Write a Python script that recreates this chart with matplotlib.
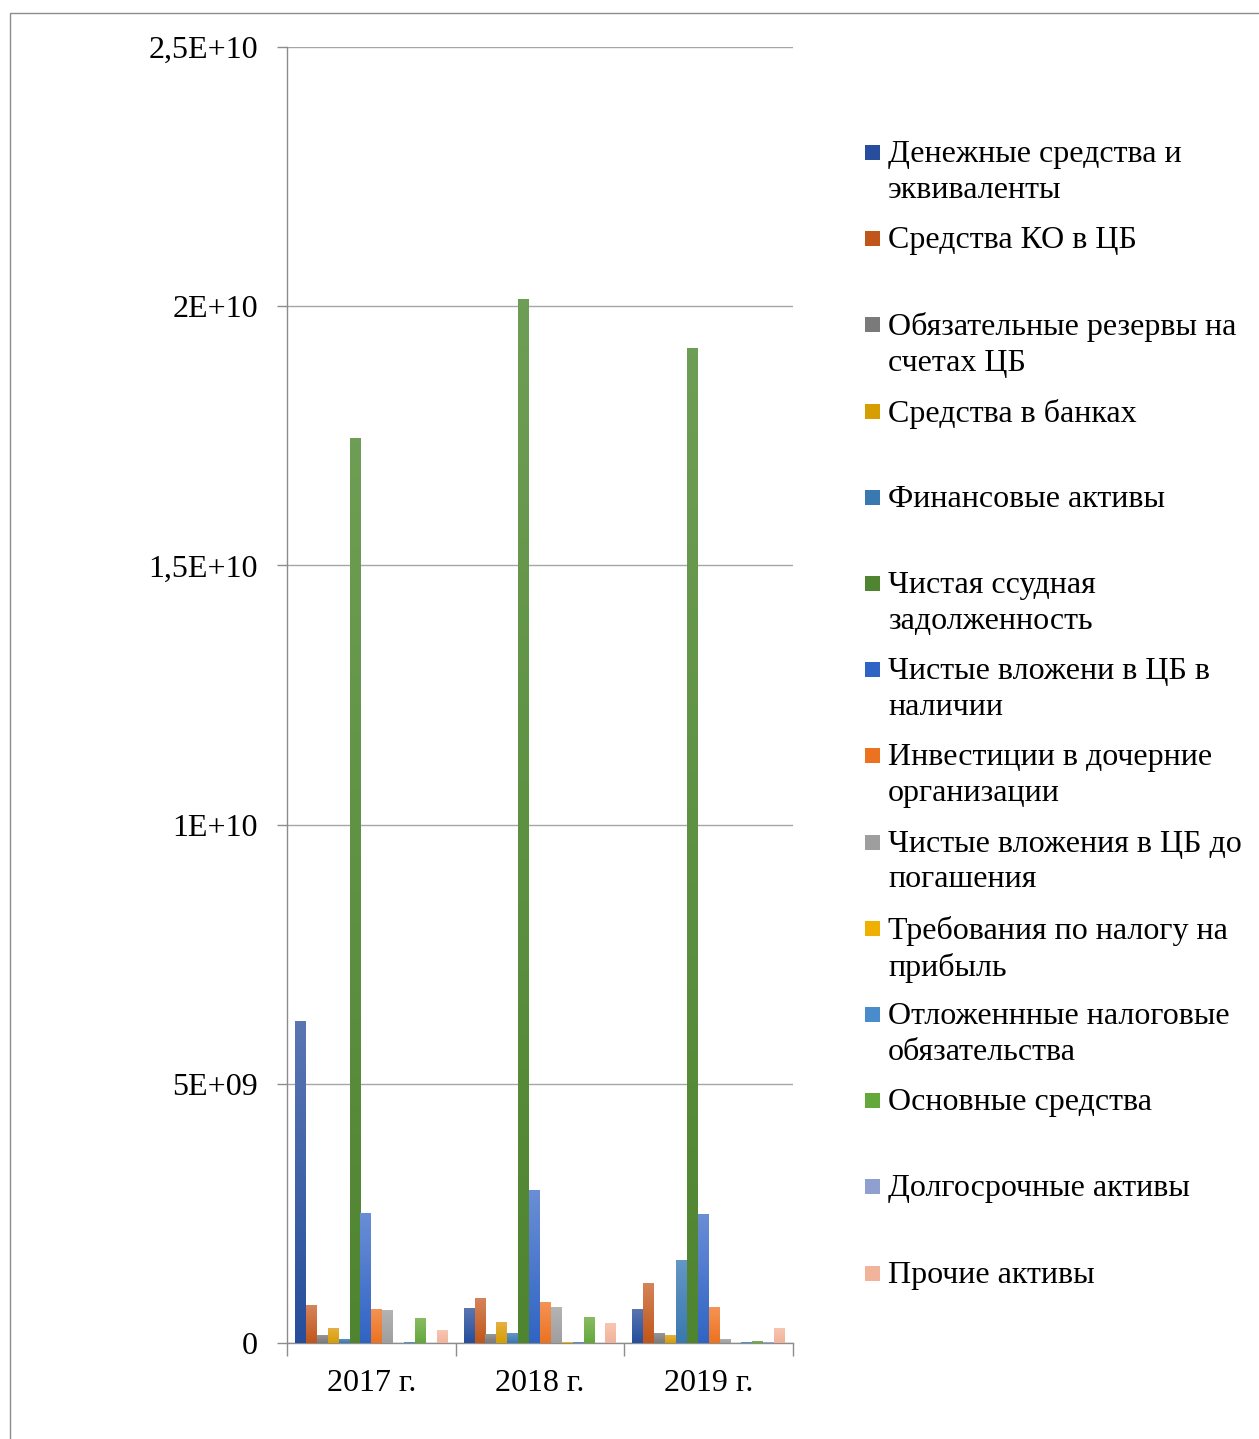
import numpy as np
import matplotlib
matplotlib.use("Agg")
import matplotlib.pyplot as plt
from matplotlib.patches import Rectangle
from matplotlib.colors import to_rgb

plt.rcParams['font.family'] = ['Liberation Serif', 'DejaVu Serif']

years = ["2017 г.", "2018 г.", "2019 г."]

series_names = [
    "Денежные средства и\nэквиваленты",
    "Средства КО в ЦБ",
    "Обязательные резервы на\nсчетах ЦБ",
    "Средства в банках",
    "Финансовые активы",
    "Чистая ссудная\nзадолженность",
    "Чистые вложени в ЦБ в\nналичии",
    "Инвестиции в дочерние\nорганизации",
    "Чистые вложения в ЦБ до\nпогашения",
    "Требования по налогу на\nприбыль",
    "Отложеннные налоговые\nобязательства",
    "Основные средства",
    "Долгосрочные активы",
    "Прочие активы",
]

# values per series for 2017, 2018, 2019 (rubles)
cash_equiv      = [6.21e9, 0.67e9, 0.66e9]
ko_funds_cb     = [0.73e9, 0.86e9, 1.16e9]
mandatory_res   = [0.15e9, 0.17e9, 0.19e9]
bank_funds      = [0.29e9, 0.40e9, 0.15e9]
fin_assets      = [0.08e9, 0.19e9, 1.60e9]
net_loans       = [17.46e9, 20.14e9, 19.19e9]
sec_available   = [2.51e9, 2.95e9, 2.49e9]
subsidiaries    = [0.66e9, 0.79e9, 0.69e9]
sec_maturity    = [0.64e9, 0.69e9, 0.08e9]
tax_claims      = [0.0, 0.02e9, 0.0]
deferred_tax    = [0.02e9, 0.02e9, 0.02e9]
fixed_assets    = [0.48e9, 0.50e9, 0.04e9]
longterm_assets = [0.0, 0.0, 0.02e9]
other_assets    = [0.25e9, 0.39e9, 0.29e9]

series_values = [cash_equiv, ko_funds_cb, mandatory_res, bank_funds, fin_assets,
                 net_loans, sec_available, subsidiaries, sec_maturity, tax_claims,
                 deferred_tax, fixed_assets, longterm_assets, other_assets]

# (top colour, bottom colour) of each bar's vertical gradient
series_colors = [
    ("#5A76B2", "#264E9C"),
    ("#D6845A", "#C0561A"),
    ("#969696", "#7A7A7A"),
    ("#E6B044", "#D69E00"),
    ("#6496C6", "#3A78B0"),
    ("#6E9E55", "#4F8430"),
    ("#6A8ED6", "#3064C4"),
    ("#F49455", "#EC7220"),
    ("#B4B4B4", "#9E9E9E"),
    ("#FFC820", "#F0B000"),
    ("#64A2D8", "#4A8CCB"),
    ("#88BC62", "#64A83C"),
    ("#AEBAE0", "#8E9FD0"),
    ("#F8C6B2", "#F2B39B"),
]

W, H = 1259, 1439
fig = plt.figure(figsize=(W / 100, H / 100), dpi=100)
fig.patch.set_facecolor("white")

# chart-area frame
fig.add_artist(Rectangle((10 / W, -0.1), 1.2, 1.1 - 13 / H,
                         transform=fig.transFigure, fill=False,
                         edgecolor="#8C8C8C", linewidth=1.0))

ax = fig.add_axes([287 / W, 1 - 1343 / H, (793 - 287) / W, (1343 - 47) / H])
ax.set_facecolor("white")

n_series = len(series_values)
group = 0.905
bw = group / n_series
x = np.arange(len(years))

for j, (vals, (ctop, cbot)) in enumerate(zip(series_values, series_colors)):
    pos = x - group / 2 + (j + 0.5) * bw
    bars = ax.bar(pos, vals, width=bw, color=cbot, linewidth=0, zorder=3)
    top_rgb = np.array(to_rgb(ctop))
    bot_rgb = np.array(to_rgb(cbot))
    for b in bars:
        h = b.get_height()
        if h <= 0:
            continue
        t = np.linspace(0, 1, 64)[:, None]
        grad = (top_rgb[None, :] * (1 - t) + bot_rgb[None, :] * t)[:, None, :]
        x0 = b.get_x()
        im = ax.imshow(grad, extent=(x0, x0 + b.get_width(), 0, h),
                       origin="upper", aspect="auto", zorder=3.5,
                       interpolation="bilinear")
        im.set_clip_path(b)

ax.set_xlim(-0.5, 2.5)
ax.set_ylim(0, 2.5e10)

ytick_vals = [0, 5e9, 1e10, 1.5e10, 2e10, 2.5e10]
ytick_labels = ["0", "5E+09", "1E+10", "1,5E+10", "2E+10", "2,5E+10"]
ax.set_yticks(ytick_vals)
ax.set_yticklabels(ytick_labels, fontsize=23)
ax.yaxis.grid(True, color="#A6A6A6", linewidth=1.0, zorder=0)
ax.set_axisbelow(True)
ax.tick_params(axis="y", direction="out", length=7, width=1, color="#8C8C8C", pad=14)

ax.set_xticks(x)
ax.set_xticklabels(years, fontsize=23)
ax.set_xticks([-0.5, 0.5, 1.5, 2.5], minor=True)
ax.tick_params(axis="x", which="major", length=0, pad=19)
ax.tick_params(axis="x", which="minor", direction="out", length=9, width=1, color="#8C8C8C")

for side in ("top", "right"):
    ax.spines[side].set_visible(False)
for side in ("left", "bottom"):
    ax.spines[side].set_color("#8C8C8C")
    ax.spines[side].set_linewidth(1.0)

# legend drawn entry by entry: evenly spaced slots, marker beside the first line
y0 = 153
step = 86.2
for i, (name, (ctop, cbot)) in enumerate(zip(series_names, series_colors)):
    yc = y0 + i * step
    fig.add_artist(Rectangle((865 / W, 1 - (yc + 7) / H), 15 / W, 15 / H,
                             transform=fig.transFigure, facecolor=cbot,
                             edgecolor="none"))
    fig.text(888 / W, 1 - (yc - 13) / H, name, fontsize=23, va="top", ha="left",
             linespacing=1.31, color="black")

fig.savefig("out.png", dpi=100, facecolor="white")
